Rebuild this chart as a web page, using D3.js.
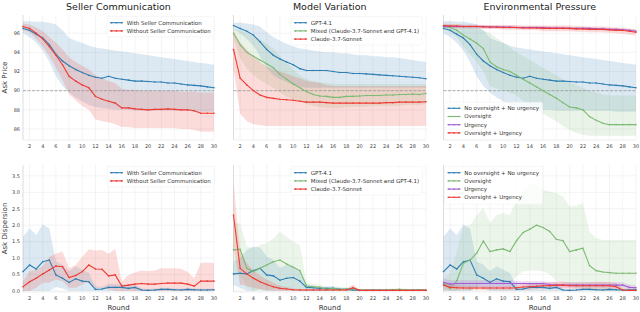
<!DOCTYPE html>
<html>
<head>
<meta charset="utf-8">
<script src="https://cdn.jsdelivr.net/npm/d3@7"></script>
<style>
  body { margin: 0; background: #fff; }
  svg { display: block; font-family: "DejaVu Sans", sans-serif; }
</style>
</head>
<body>
<svg id="chart" width="640" height="312"></svg>
<script>
// ---- data ----
const rounds = [1,2,3,4,5,6,7,8,9,10,11,12,13,14,15,16,17,18,19,20,21,22,23,24,25,26,27,28,29,30];
const roundTicks = [2,4,6,8,10,12,14,16,18,20,22,24,26,28,30];
const priceTicks = [86,88,90,92,94,96];
const dispTicks = [0,0.5,1,1.5,2,2.5,3,3.5];
const titles = ["Seller Communication", "Model Variation", "Environmental Pressure"];

// ask price
const priceWithComm   = [96.5,96.3,95.9,95.5,94.8,93.8,93.1,92.6,92.2,91.9,91.6,91.4,91.3,91.5,91.3,91.2,91.1,91.0,91.0,90.95,90.9,90.9,90.8,90.8,90.7,90.6,90.55,90.5,90.4,90.3];
const priceWithCommHi = [97.25,97.25,97.2,97.2,97.1,96.9,96.3,95.5,95.2,95.0,94.7,94.5,94.4,94.3,94.2,94.1,94.0,93.9,93.8,93.7,93.6,93.5,93.4,93.3,93.2,93.1,93.0,92.9,92.8,92.7];
const priceWithCommLo = [96.0,95.6,95.0,94.2,93.0,91.5,90.5,89.8,89.3,88.9,88.5,88.3,88.2,88.1,88.0,88.0,88.0,87.9,87.9,87.9,87.9,87.9,87.9,87.9,87.9,87.9,87.8,87.8,87.8,87.8];

const priceWithoutComm   = [96.7,96.5,96.0,95.4,94.6,93.7,92.7,91.5,91.0,90.6,90.3,89.4,89.1,88.9,88.7,88.2,88.2,88.1,88.05,88.0,88.05,88.05,88.1,88.05,88.0,88.0,87.9,87.65,87.65,87.65];
const priceWithoutCommHi = [97.0,96.9,96.6,96.2,95.6,95.0,94.3,93.5,93.0,92.6,92.2,91.6,91.3,91.0,90.8,90.2,90.1,90.1,90.0,90.0,90.0,90.0,90.0,90.0,89.9,89.9,89.9,89.8,89.8,89.8];
const priceWithoutCommLo = [96.3,96.1,95.4,94.6,93.6,92.4,91.1,89.6,89.0,88.4,88.0,87.0,86.8,86.7,86.5,86.2,86.2,86.1,86.1,86.1,86.1,86.1,86.1,86.1,86.0,86.0,85.9,85.7,85.7,85.7];

const priceGpt   = [96.8,96.5,96.2,95.8,95.1,94.3,93.7,93.3,93.0,92.7,92.3,92.1,92.1,92.1,92.1,92.0,91.9,91.9,91.8,91.8,91.75,91.7,91.65,91.6,91.55,91.5,91.45,91.4,91.35,91.25];
const priceGptHi = [97.1,97.1,97.0,96.9,96.7,96.1,95.6,95.2,94.9,94.6,94.4,94.3,94.2,94.1,94.0,94.0,93.9,93.9,93.8,93.7,93.7,93.6,93.6,93.5,93.5,93.4,93.3,93.2,93.1,93.0];
const priceGptLo = [96.4,96.0,95.4,94.7,93.6,92.4,91.6,91.2,90.9,90.6,90.4,90.3,90.3,90.3,90.3,90.3,90.3,90.3,90.3,90.3,90.3,90.3,90.3,90.3,90.3,90.3,90.3,90.3,90.3,90.3];

const priceMixed   = [96.0,94.8,94.0,93.6,93.2,92.8,92.4,91.7,91.2,90.7,90.3,89.9,89.6,89.45,89.4,89.3,89.3,89.4,89.4,89.45,89.5,89.5,89.5,89.55,89.55,89.6,89.6,89.65,89.6,89.7];
const priceMixedHi = [96.5,96.3,96.0,95.7,95.4,94.9,94.4,93.6,92.9,92.2,91.6,91.2,91.0,90.9,90.8,90.7,90.7,90.7,90.7,90.7,90.7,90.7,90.7,90.7,90.7,90.7,90.7,90.7,90.7,90.7];
const priceMixedLo = [95.5,93.4,92.3,91.6,91.1,90.7,90.3,89.8,89.4,89.1,88.9,88.6,88.4,88.3,88.2,88.2,88.2,88.3,88.3,88.3,88.3,88.4,88.4,88.4,88.4,88.4,88.5,88.5,88.5,88.6];

const priceClaude   = [94.3,91.3,90.6,90.0,89.55,89.3,89.2,89.1,89.05,89.0,88.9,88.8,88.8,88.8,88.75,88.7,88.7,88.7,88.7,88.7,88.7,88.7,88.7,88.75,88.75,88.8,88.8,88.8,88.8,88.85];
const priceClaudeHi = [96.3,95.0,94.3,93.6,93.0,92.5,92.2,92.0,91.8,91.5,91.3,91.0,90.9,90.8,90.6,90.5,90.5,90.5,90.5,90.5,90.5,90.5,90.5,90.5,90.5,90.5,90.5,90.5,90.5,90.5];
const priceClaudeLo = [92.3,87.6,86.8,86.5,86.4,86.3,86.3,86.3,86.3,86.3,86.3,86.3,86.3,86.3,86.3,86.3,86.3,86.3,86.3,86.3,86.3,86.3,86.3,86.3,86.3,86.3,86.3,86.3,86.3,86.3];

const priceOversight   = [96.7,96.6,96.3,95.8,95.4,94.95,94.4,93.0,92.5,92.2,92.0,91.6,91.2,90.8,90.4,90.0,89.6,89.2,88.75,88.3,88.2,88.0,87.3,86.9,86.6,86.45,86.45,86.45,86.45,86.45];
const priceOversightHi = [96.9,96.9,96.8,96.7,96.6,96.5,96.3,96.0,95.5,95.0,94.5,94.0,93.6,93.2,92.8,92.4,92.0,91.6,91.2,90.9,90.6,90.3,90.0,89.8,89.6,89.5,89.5,89.5,89.5,89.5];
const priceOversightLo = [96.5,96.2,95.6,94.6,93.8,93.0,92.0,90.5,90.2,90.0,89.8,89.5,89.0,88.5,88.0,87.6,87.2,86.8,86.3,85.9,85.6,85.4,85.3,85.3,85.3,85.3,85.3,85.3,85.3,85.3];

const priceUrgency   = [96.7,96.7,96.7,96.7,96.7,96.7,96.7,96.65,96.65,96.65,96.65,96.6,96.6,96.6,96.6,96.6,96.55,96.55,96.55,96.5,96.5,96.5,96.5,96.45,96.45,96.4,96.4,96.35,96.3,96.2];
const priceUrgencyHi = [96.85,96.85,96.85,96.85,96.85,96.85,96.85,96.8,96.8,96.8,96.8,96.75,96.75,96.75,96.75,96.75,96.7,96.7,96.7,96.65,96.65,96.65,96.65,96.6,96.6,96.55,96.55,96.5,96.45,96.35];
const priceUrgencyLo = [96.55,96.55,96.55,96.55,96.55,96.55,96.55,96.5,96.5,96.5,96.5,96.45,96.45,96.45,96.45,96.45,96.4,96.4,96.4,96.35,96.35,96.35,96.35,96.3,96.3,96.25,96.25,96.2,96.15,96.05];

const priceOvUrg   = [96.8,96.75,96.75,96.7,96.7,96.7,96.65,96.65,96.65,96.6,96.6,96.6,96.55,96.55,96.55,96.5,96.5,96.5,96.5,96.5,96.45,96.45,96.4,96.4,96.4,96.35,96.3,96.3,96.2,96.1];
const priceOvUrgHi = [97.0,96.95,96.95,96.9,96.9,96.9,96.85,96.85,96.85,96.85,96.85,96.85,96.8,96.8,96.8,96.8,96.8,96.8,96.8,96.8,96.75,96.75,96.7,96.7,96.7,96.65,96.6,96.6,96.5,96.4];
const priceOvUrgLo = [96.6,96.55,96.55,96.5,96.5,96.5,96.45,96.45,96.45,96.35,96.35,96.35,96.3,96.3,96.3,96.2,96.2,96.2,96.2,96.2,96.15,96.15,96.1,96.1,96.1,96.05,96.0,95.95,95.85,95.75];

// ask dispersion
const dispWithComm   = [0.59,0.79,0.67,0.89,0.94,0.49,0.39,0.26,0.37,0.30,0.28,0.05,0.06,0.11,0.11,0.11,0.08,0.11,0.03,0.02,0.03,0.05,0.05,0.04,0.03,0.05,0.04,0.03,0.03,0.04];
const dispWithCommHi = [1.65,1.9,1.7,2.02,1.9,0.9,0.8,0.6,0.75,0.65,0.55,0.15,0.12,0.22,0.22,0.22,0.18,0.2,0.08,0.06,0.08,0.1,0.1,0.08,0.07,0.1,0.08,0.07,0.07,0.08];
const dispWithCommLo = [0,0,0,0,0,0.12,0.08,0,0,0,0,0,0,0,0,0,0,0,0,0,0,0,0,0,0,0,0,0,0,0];

const dispWithoutComm   = [0.13,0.28,0.39,0.52,0.64,0.76,0.74,0.41,0.47,0.59,0.79,0.67,0.66,0.46,0.49,0.15,0.18,0.21,0.23,0.21,0.21,0.23,0.24,0.24,0.24,0.21,0.15,0.30,0.30,0.30];
const dispWithoutCommHi = [0.3,0.6,0.65,0.75,1.04,1.13,1.2,0.69,0.79,1.04,1.27,1.23,1.25,1.13,1.28,0.28,0.49,0.56,0.62,0.6,0.62,0.69,0.69,0.69,0.68,0.58,0.39,0.86,0.86,0.86];
const dispWithoutCommLo = [0,0,0.1,0.25,0.25,0.35,0.3,0.1,0.1,0.2,0.3,0.1,0.1,0.05,0,0,0,0,0,0,0,0,0,0,0,0,0,0,0,0];

const dispGpt   = [0.52,0.54,0.52,0.62,0.69,0.49,0.46,0.33,0.39,0.41,0.30,0.11,0.10,0.08,0.08,0.08,0.05,0.05,0.03,0.02,0.02,0.03,0.02,0.02,0.03,0.03,0.02,0.02,0.03,0.02];
const dispGptHi = [0.9,1.0,1.25,1.35,1.32,1.05,0.95,0.7,0.8,0.75,0.6,0.2,0.17,0.14,0.14,0.14,0.1,0.1,0.07,0.05,0.05,0.06,0.05,0.05,0.06,0.06,0.05,0.05,0.06,0.05];
const dispGptLo = [0.18,0.1,0,0,0.05,0,0,0,0,0,0,0,0,0,0,0,0,0,0,0,0,0,0,0,0,0,0,0,0,0];

const dispMixed   = [1.25,1.27,0.69,0.59,0.69,0.79,0.89,0.94,0.82,0.72,0.62,0.15,0.13,0.11,0.05,0.08,0.05,0.05,0.08,0.02,0.03,0.03,0.03,0.03,0.04,0.05,0.03,0.03,0.03,0.03];
const dispMixedHi = [2.06,2.06,1.35,1.3,1.4,1.45,1.6,1.8,1.65,1.5,1.4,0.25,0.22,0.2,0.12,0.15,0.12,0.1,0.15,0.05,0.06,0.06,0.06,0.07,0.08,0.1,0.07,0.06,0.06,0.06];
const dispMixedLo = [0.45,0.5,0.1,0,0,0,0.05,0.1,0.05,0,0,0,0,0,0,0,0,0,0,0,0,0,0,0,0,0,0,0,0,0];

const dispClaude   = [2.31,0.69,0.52,0.39,0.28,0.20,0.13,0.08,0.06,0.04,0.03,0.03,0.03,0.03,0.03,0.03,0.03,0.03,0.10,0.02,0.02,0.02,0.02,0.02,0.02,0.02,0.02,0.02,0.02,0.02];
const dispClaudeHi = [3.33,1.2,0.85,0.62,0.47,0.35,0.25,0.16,0.12,0.08,0.06,0.06,0.06,0.06,0.06,0.06,0.06,0.06,0.2,0.04,0.04,0.04,0.04,0.04,0.04,0.04,0.04,0.04,0.04,0.04];
const dispClaudeLo = [1.3,0.2,0.15,0.1,0.05,0.03,0,0,0,0,0,0,0,0,0,0,0,0,0,0,0,0,0,0,0,0,0,0,0,0];

const dispOversight   = [0.23,0.08,0.31,0.84,0.94,1.15,1.52,1.2,1.25,1.28,1.2,1.53,1.78,1.88,2.0,1.93,1.81,1.57,1.53,1.2,1.25,1.3,0.77,0.62,0.58,0.56,0.54,0.54,0.54,0.54];
const dispOversightHi = [0.45,0.5,1.2,1.96,2.0,2.3,2.52,2.06,2.31,2.36,2.31,2.77,3.02,3.28,3.22,3.07,3.02,2.97,2.87,2.57,2.59,2.67,1.8,1.6,1.55,1.55,1.55,1.55,1.55,1.55];
const dispOversightLo = [0,0,0,0.1,0,0.1,0.3,0.2,0.2,0.2,0.2,0.45,0.6,0.62,0.62,0.6,0.5,0.3,0.25,0.15,0.1,0.1,0,0,0,0,0,0,0,0];

const dispUrgency   = [0.26,0.21,0.23,0.23,0.23,0.23,0.23,0.23,0.23,0.23,0.23,0.23,0.23,0.23,0.23,0.23,0.2,0.18,0.18,0.18,0.18,0.18,0.18,0.18,0.18,0.18,0.18,0.18,0.11,0.10];
const dispUrgencyHi = [0.38,0.32,0.33,0.33,0.33,0.33,0.33,0.33,0.33,0.33,0.33,0.31,0.3,0.3,0.3,0.3,0.28,0.27,0.27,0.27,0.27,0.27,0.27,0.27,0.27,0.27,0.27,0.27,0.2,0.18];
const dispUrgencyLo = [0.14,0.1,0.13,0.13,0.13,0.13,0.13,0.13,0.13,0.13,0.13,0.15,0.16,0.16,0.16,0.16,0.12,0.1,0.1,0.1,0.1,0.1,0.1,0.1,0.1,0.1,0.1,0.1,0.03,0.02];

const dispOvUrg   = [0.18,0.11,0.10,0.09,0.09,0.09,0.09,0.09,0.09,0.09,0.09,0.10,0.12,0.13,0.14,0.16,0.16,0.18,0.18,0.16,0.16,0.16,0.16,0.16,0.16,0.16,0.13,0.03,0.02,0.02];
const dispOvUrgHi = [0.3,0.2,0.18,0.16,0.16,0.16,0.16,0.16,0.16,0.16,0.16,0.18,0.2,0.22,0.24,0.26,0.26,0.28,0.28,0.26,0.26,0.26,0.27,0.28,0.28,0.27,0.24,0.08,0.05,0.05];
const dispOvUrgLo = [0.06,0.02,0.02,0.02,0.02,0.02,0.02,0.02,0.02,0.02,0.02,0.02,0.04,0.04,0.05,0.06,0.06,0.08,0.08,0.06,0.06,0.06,0.05,0.04,0.04,0.05,0.02,0,0,0];

// ---- layout ----
const BLUE = "#2e7eb3", RED = "#ee3b34", GREEN = "#7dba74", PURPLE = "#a35bd1";
const colX = [[23, 214], [233.5, 426], [443.5, 636]];
const svg = d3.select("#chart");

const yPrice = d3.scaleLinear().domain([84.85, 97.9]).range([140, 15]);
const yDisp = d3.scaleLinear().domain([-0.03, 3.83]).range([292, 165]);

const s = (name, color, mean, lo, hi, op) => ({ name, color, mean, lo, hi, op });

const panels = [
  { col: 0, y: yPrice, legend: [110, 22.7], series: [
      s("With Seller Communication", BLUE, priceWithComm, priceWithCommLo, priceWithCommHi, 0.17),
      s("Without Seller Communication", RED, priceWithoutComm, priceWithoutCommLo, priceWithoutCommHi, 0.18)] },
  { col: 1, y: yPrice, legend: [294, 22.7], series: [
      s("GPT-4.1", BLUE, priceGpt, priceGptLo, priceGptHi, 0.17),
      s("Mixed (Claude-3.7-Sonnet and GPT-4.1)", GREEN, priceMixed, priceMixedLo, priceMixedHi, 0.17),
      s("Claude-3.7-Sonnet", RED, priceClaude, priceClaudeLo, priceClaudeHi, 0.18)] },
  { col: 2, y: yPrice, legend: [447.5, 108.3], series: [
      s("No oversight + No urgency", BLUE, priceWithComm, priceWithCommLo, priceWithCommHi, 0.17),
      s("Oversight", GREEN, priceOversight, priceOversightLo, priceOversightHi, 0.17),
      s("Urgency", PURPLE, priceUrgency, priceUrgencyLo, priceUrgencyHi, 0.2),
      s("Oversight + Urgency", RED, priceOvUrg, priceOvUrgLo, priceOvUrgHi, 0.18)] },
  { col: 0, y: yDisp, legend: [110, 172.7], series: [
      s("With Seller Communication", BLUE, dispWithComm, dispWithCommLo, dispWithCommHi, 0.17),
      s("Without Seller Communication", RED, dispWithoutComm, dispWithoutCommLo, dispWithoutCommHi, 0.18)] },
  { col: 1, y: yDisp, legend: [294, 172.7], series: [
      s("GPT-4.1", BLUE, dispGpt, dispGptLo, dispGptHi, 0.17),
      s("Mixed (Claude-3.7-Sonnet and GPT-4.1)", GREEN, dispMixed, dispMixedLo, dispMixedHi, 0.15),
      s("Claude-3.7-Sonnet", RED, dispClaude, dispClaudeLo, dispClaudeHi, 0.18)] },
  { col: 2, y: yDisp, legend: [447.5, 172.7], series: [
      s("No oversight + No urgency", BLUE, dispWithComm, dispWithCommLo, dispWithCommHi, 0.17),
      s("Oversight", GREEN, dispOversight, dispOversightLo, dispOversightHi, 0.15),
      s("Urgency", PURPLE, dispUrgency, dispUrgencyLo, dispUrgencyHi, 0.2),
      s("Oversight + Urgency", RED, dispOvUrg, dispOvUrgLo, dispOvUrgHi, 0.18)] }
];

panels.forEach((p, i) => {
  const x = d3.scaleLinear().domain([1, 30]).range(colX[p.col]);
  const y = p.y;
  const isPrice = y === yPrice;
  const [y0, y1] = y.range();
  const g = svg.append("g");

  // grid
  g.selectAll(".vg").data(roundTicks).enter().append("line")
    .attr("x1", d => x(d)).attr("x2", d => x(d)).attr("y1", y1).attr("y2", y0)
    .attr("stroke", "#ececec").attr("stroke-width", 0.6);
  g.selectAll(".hg").data(isPrice ? priceTicks : dispTicks).enter().append("line")
    .attr("x1", x.range()[0]).attr("x2", x.range()[1]).attr("y1", d => y(d)).attr("y2", d => y(d))
    .attr("stroke", "#ececec").attr("stroke-width", 0.6);

  // spines
  g.append("line").attr("x1", x.range()[0]).attr("x2", x.range()[0]).attr("y1", y1).attr("y2", y0)
    .attr("stroke", "#d4d4d4").attr("stroke-width", 0.8);
  g.append("line").attr("x1", x.range()[0]).attr("x2", x.range()[1]).attr("y1", y0).attr("y2", y0)
    .attr("stroke", "#e4e4e4").attr("stroke-width", 0.6);

  // bands
  p.series.forEach(sr => {
    const area = d3.area().x((d, k) => x(rounds[k])).y0((d, k) => y(sr.lo[k])).y1((d, k) => y(sr.hi[k]));
    g.append("path").datum(sr.mean).attr("d", area).attr("fill", sr.color).attr("fill-opacity", sr.op);
  });

  if (isPrice) {
    g.append("line").attr("x1", x.range()[0]).attr("x2", x.range()[1]).attr("y1", y(90)).attr("y2", y(90))
      .attr("stroke", "#9a9a9a").attr("stroke-width", 0.8).attr("stroke-dasharray", "3,1.5");
  }

  // lines + small markers
  p.series.forEach(sr => {
    const line = d3.line().x((d, k) => x(rounds[k])).y(d => y(d));
    g.append("path").datum(sr.mean).attr("d", line).attr("fill", "none")
      .attr("stroke", sr.color).attr("stroke-width", 1.1);
    g.selectAll(null).data(sr.mean).enter().append("circle")
      .attr("cx", (d, k) => x(rounds[k])).attr("cy", d => y(d)).attr("r", 0.8).attr("fill", sr.color);
  });

  // x tick labels
  g.selectAll(".xt").data(roundTicks).enter().append("text")
    .attr("x", d => x(d)).attr("y", y0 + 7.5).attr("text-anchor", "middle")
    .attr("font-size", 5).attr("fill", "#444").text(d => d);

  // y tick labels only on first column
  if (p.col === 0) {
    const fmt = isPrice ? d3.format("d") : d3.format(".1f");
    g.selectAll(".yt").data(isPrice ? priceTicks : dispTicks).enter().append("text")
      .attr("x", 20).attr("y", d => y(d) + 1.8).attr("text-anchor", "end")
      .attr("font-size", 5).attr("fill", "#444").text(d => fmt(d));
    g.append("text").attr("transform", `translate(6.5,${(y0 + y1) / 2}) rotate(-90)`)
      .attr("text-anchor", "middle").attr("font-size", 7).attr("fill", "#333")
      .text(isPrice ? "Ask Price" : "Ask Dispersion");
  }

  if (isPrice) {
    g.append("text").attr("x", (x.range()[0] + x.range()[1]) / 2).attr("y", 9.5)
      .attr("text-anchor", "middle").attr("font-size", 9.5).attr("fill", "#222").text(titles[p.col]);
  } else {
    g.append("text").attr("x", (x.range()[0] + x.range()[1]) / 2).attr("y", 310)
      .attr("text-anchor", "middle").attr("font-size", 7).attr("fill", "#333").text("Round");
  }

  // legend
  const lg = g.append("g");
  const bg = lg.append("rect").attr("fill", "#fff").attr("fill-opacity", 0.8)
    .attr("stroke", "#eee").attr("stroke-width", 0.5).attr("rx", 1.5);
  const [lx, ly] = p.legend;
  p.series.forEach((sr, k) => {
    const yy = ly + k * 8.2;
    lg.append("line").attr("x1", lx).attr("x2", lx + 13).attr("y1", yy).attr("y2", yy)
      .attr("stroke", sr.color).attr("stroke-width", 1.1);
    [lx + 1.5, lx + 6.5, lx + 11.5].forEach(cx => lg.append("circle").attr("cx", cx).attr("cy", yy).attr("r", 0.8).attr("fill", sr.color));
    lg.append("text").attr("x", lx + 16.8).attr("y", yy + 1.9).attr("font-size", 5.5).attr("fill", "#333").text(sr.name);
  });
  const bb = lg.node().getBBox();
  bg.attr("x", bb.x - 3).attr("y", bb.y - 3).attr("width", bb.width + 6).attr("height", bb.height + 6);
});
</script>
</body>
</html>
